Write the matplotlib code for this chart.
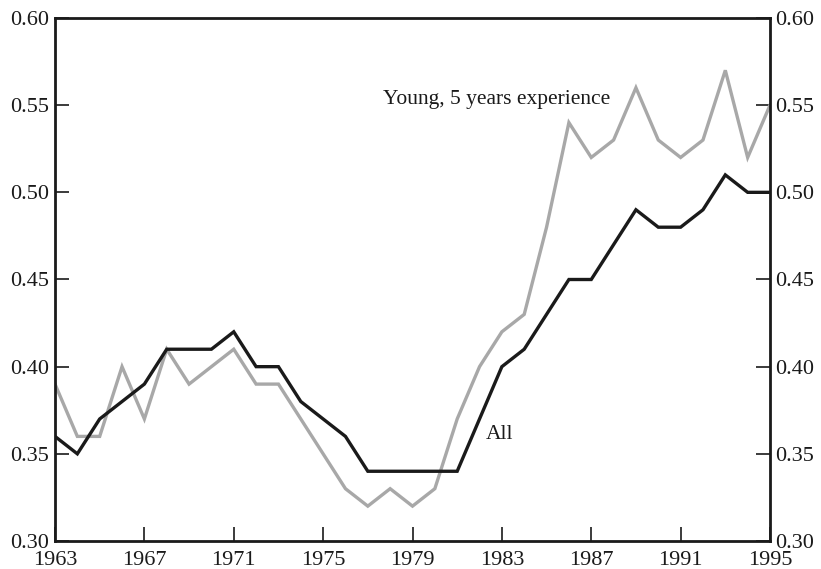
import matplotlib
matplotlib.use("Agg")
import matplotlib.pyplot as plt

years = list(range(1963, 1996))
all_workers = [0.36, 0.35, 0.37, 0.38, 0.39, 0.41, 0.41, 0.41, 0.42, 0.40, 0.40,
               0.38, 0.37, 0.36, 0.34, 0.34, 0.34, 0.34, 0.34, 0.37, 0.40, 0.41,
               0.43, 0.45, 0.45, 0.47, 0.49, 0.48, 0.48, 0.49, 0.51, 0.50, 0.50]
young = [0.39, 0.36, 0.36, 0.40, 0.37, 0.41, 0.39, 0.40, 0.41, 0.39, 0.39,
         0.37, 0.35, 0.33, 0.32, 0.33, 0.32, 0.33, 0.37, 0.40, 0.42, 0.43,
         0.48, 0.54, 0.52, 0.53, 0.56, 0.53, 0.52, 0.53, 0.57, 0.52, 0.55]
xticks = [1963, 1967, 1971, 1975, 1979, 1983, 1987, 1991, 1995]
yticks = [0.30, 0.35, 0.40, 0.45, 0.50, 0.55, 0.60]

plt.rcParams['font.family'] = ['Liberation Serif', 'DejaVu Serif']
fig = plt.figure(figsize=(8.21, 5.69), dpi=100)
ax = fig.add_axes([55/821, 1-541/569, (770-55)/821, (541-18)/569])

ax.plot(years, young, color='#a8a8a8', lw=2.4, solid_joinstyle='miter')
ax.plot(years, all_workers, color='#1a1a1a', lw=2.4, solid_joinstyle='miter')

ax.set_xlim(1963, 1995)
ax.set_ylim(0.30, 0.60)
ax.set_xticks(xticks)
ax.set_xticklabels([str(x) for x in xticks])
ax.set_yticks(yticks)
ax.set_yticklabels([f"{y:.2f}" for y in yticks])
ax.tick_params(axis='both', direction='in', length=10, width=1.2, labelsize=16,
               color='#1a1a1a', labelcolor='#1a1a1a')
ax.tick_params(axis='y', right=True, labelright=True, pad=4)
ax.tick_params(axis='x', pad=7)
for s in ax.spines.values():
    s.set_linewidth(2.0)
    s.set_color('#1a1a1a')

ax.text(1982.3, 0.361, "All", fontsize=15.5, color='#1a1a1a', ha='left', va='center')
ax.text(1977.7, 0.553, "Young, 5 years experience", fontsize=15.5, color='#1a1a1a',
        ha='left', va='center')

fig.savefig("out.png", dpi=100)
